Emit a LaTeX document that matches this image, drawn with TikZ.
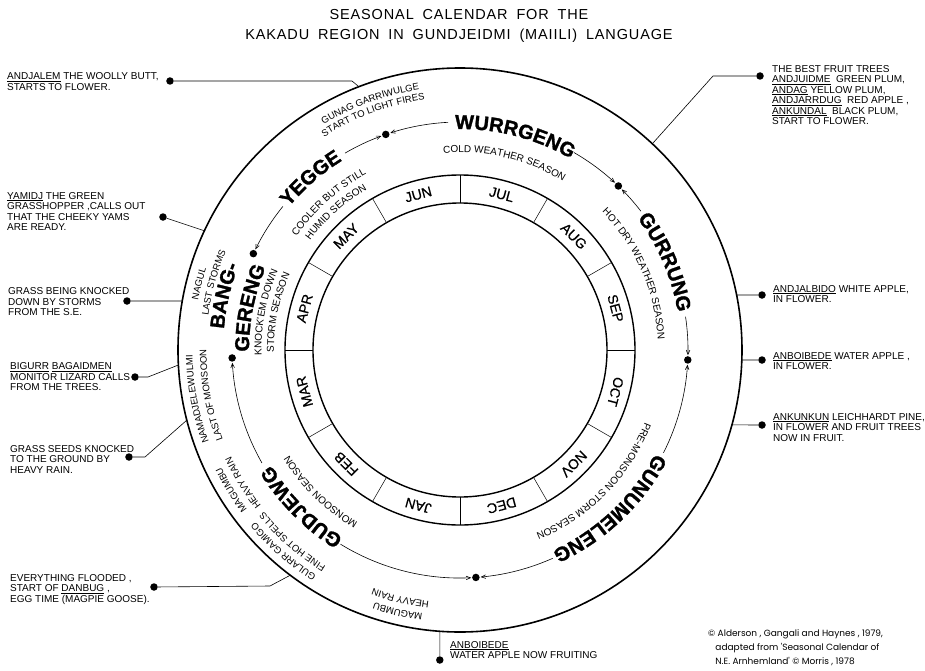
\documentclass[tikz,border=0pt]{standalone}
\usepackage{fontspec}
\setmainfont{Liberation Sans}
\newfontfamily\titlefont[LetterSpace=6,WordSpace=1.8]{Liberation Sans}
\newfontfamily\heavyfont[FakeBold=1.4]{Liberation Sans Bold}
\newfontfamily\monthfont[FakeBold=0.6]{Liberation Sans}
\newfontfamily\creditfont{Poppins}
\usepackage{tikz}
\usetikzlibrary{arrows,%
                decorations.text}

\newcommand{\namefont}{\heavyfont\fontsize{20}{20}\selectfont}
\newcommand{\subfont}{\fontsize{10}{10}\selectfont}
\newcommand{\notefont}{\fontsize{9.5}{9.5}\selectfont}
% text set along a circle round the centre: font, radius, angle, text
\newcommand{\ringlabel}[4]{%
  \path[decorate, decoration={text along path, text align=center, text={|#1|#4}}]
    ({#3+60}:#2) arc[start angle={#3+60}, end angle={#3-60}, radius=#2];}

\tikzset{
  dot/.style={circle, fill=black, inner sep=0pt, minimum size=7.5pt},
  note/.style={anchor=north west, inner sep=0pt, align=left, font=\fontsize{10}{10.5}\selectfont},
  month/.style={inner sep=0pt, font=\monthfont\fontsize{14}{14}\selectfont},
  lead/.style={line width=0.6pt},
  seasonarc/.style={line width=0.6pt, -angle 45},
}

\begin{document}
\begin{tikzpicture}[x=1pt, y=1pt]
\useasboundingbox (-460,-320) rectangle (465,350);
\coordinate (O) at (0,0);
\node[anchor=north, inner sep=0pt, align=center, font=\titlefont\fontsize{14.5}{20}\selectfont] (title) at (-1,340.5)
  {SEASONAL CALENDAR FOR THE\\KAKADU REGION IN GUNDJEIDMI (MAIILI) LANGUAGE};
% rings
\draw[line width=1.6pt] (O) circle[radius=282];
\draw[line width=1.4pt] (O) circle[radius=175];
\draw[line width=1.4pt] (O) circle[radius=147];
\foreach \a in {0,30,...,330}
  \draw[line width=0.5pt] (\a:147) -- (\a:175);
\foreach \m/\a in {JUL/75, AUG/45, SEP/15, OCT/-15, NOV/-45, DEC/-75,
                   JAN/-105, FEB/-135, MAR/-165, APR/165, MAY/135, JUN/105}
  \node[month, rotate=\a-90] (m\m) at (\a:161) {\m};
% season arc, broken where the names stand
\foreach \s/\e in {120.3/110.2, 93/107.8, 60/47.2, 37.5/44.8, 8.4/-1.3,
                   -26.8/-3.7, -66/-84.8, 238.4/272.8, 209.7/183.2, 141/153.8}
  \draw[seasonarc] (\s:228) arc[start angle=\s, end angle=\e, radius=228];
\foreach \a [count=\i] in {109,46,-2.5,-86,182,155}
  \node[dot] (s\i) at (\a:228) {};
% seasons
\ringlabel{\namefont}{221}{75.6}{WURRGENG}
\ringlabel{\namefont}{221}{23.2}{GURRUNG}
\ringlabel{\namefont}{221}{-46.6}{GUNUMELENG}
\ringlabel{\namefont}{221}{224.7}{GUDJEWG}
\ringlabel{\namefont}{223}{131}{YEGGE}
\ringlabel{\namefont}{237}{167}{BANG-}
\ringlabel{\namefont}{211}{168.7}{GERENG}
\ringlabel{\subfont}{197.5}{76.7}{COLD WEATHER SEASON}
\ringlabel{\subfont}{198}{23.6}{HOT DRY WEATHER SEASON}
\ringlabel{\subfont}{198.5}{-44.4}{PRE-MONSOON STORM SEASON}
\ringlabel{\subfont}{200.5}{225.5}{MONSOON SEASON}
\ringlabel{\subfont}{198.5}{169}{KNOCK'EM DOWN}
\ringlabel{\subfont}{186}{168.4}{STORM SEASON}
\ringlabel{\subfont}{199}{131.6}{COOLER BUT STILL}
\ringlabel{\subfont}{185.5}{132}{HUMID SEASON}
\ringlabel{\notefont}{263.5}{110}{GUNAG GARRIWULGE}
\ringlabel{\notefont}{252.5}{110.3}{START TO LIGHT FIRES}
\ringlabel{\notefont}{266.5}{165.7}{NAGUL}
\ringlabel{\notefont}{254}{164.7}{LAST STORMS}
\ringlabel{\notefont}{267.5}{190.6}{NAMADJELEWULMI}
\ringlabel{\notefont}{253.5}{190.3}{LAST OF MONSOON}
\ringlabel{\notefont}{266}{211.5}{MAGUMBU}
\ringlabel{\notefont}{252.5}{211.5}{HEAVY RAIN}
\ringlabel{\notefont}{267.5}{228.8}{GULARR GAMIGO}
\ringlabel{\notefont}{254.5}{228.9}{FINE HOT SPELLS}
\ringlabel{\notefont}{266.5}{256.6}{MAGUMBU}
\ringlabel{\notefont}{253.5}{256.5}{HEAVY RAIN}
% left notes
\node[note] (andjalem) at (-453,277.3) {\underline{ANDJALEM} THE WOOLLY BUTT,\\STARTS TO FLOWER.};
\node[dot] (p1) at (-290,269) {};
\coordinate (k1) at (-108,269);
\coordinate (c1) at (111:282);
\draw[lead] (p1) -- (k1) -- (c1);
\node[note] (yamidj) at (-453,158) {\underline{YAMIDJ} THE GREEN\\GRASSHOPPER ,CALLS OUT\\THAT THE CHEEKY YAMS\\ARE READY.};
\node[dot] (p2) at (-297,133) {};
\coordinate (c2) at (155:282);
\draw[lead] (p2) -- (c2);
\node[note] (grass) at (-452,62.3) {GRASS BEING KNOCKED\\DOWN BY STORMS\\FROM THE S.E.};
\node[dot] (p3) at (-333,49) {};
\coordinate (c3) at (170:282);
\draw[lead] (p3) -- (c3);
\node[note] (bigurr) at (-450,-12.7) {\underline{BIGURR} \underline{BAGAIDMEN}\\MONITOR LIZARD CALLS\\FROM THE TREES.};
\node[dot] (p4) at (-325,-27) {};
\coordinate (k4) at (-312,-27);
\coordinate (c4) at (183.05:282);
\draw[lead] (p4) -- (k4) -- (c4);
\node[note] (seeds) at (-450,-95) {GRASS SEEDS KNOCKED\\TO THE GROUND BY\\HEAVY RAIN.};
\node[dot] (p5) at (-331,-107) {};
\coordinate (k5) at (-315,-107);
\coordinate (c5) at (194.4:282);
\draw[lead] (p5) -- (k5) -- (c5);
\node[note] (flood) at (-450,-224) {EVERYTHING FLOODED ,\\START OF \underline{DANBUG} ,\\EGG TIME (MAGPIE GOOSE).};
\node[dot] (p6) at (-306,-237) {};
\coordinate (k6) at (-190,-236);
\coordinate (c6) at (233:282);
\draw[lead] (p6) -- (k6) -- (c6);
\node[note] (fruiting) at (-10,-291) {\underline{ANBOIBEDE}\\WATER APPLE NOW FRUITING};
\node[dot] (p7) at (-20.2,-310) {};
\coordinate (c7) at (265.9:282);
\draw[lead] (p7) -- (c7);
% right notes
\node[note] (best) at (312,285) {THE BEST FRUIT TREES\\\underline{ANDJUIDME}\ \ GREEN PLUM,\\\underline{ANDAG} YELLOW PLUM,\\\underline{ANDJARRDUG}\ \ RED APPLE ,\\\underline{ANKUNDAL}\ \ BLACK PLUM,\\START TO FLOWER.};
\node[dot] (p8) at (300,274) {};
\coordinate (k8) at (253,274);
\coordinate (c8) at (47:282);
\draw[lead] (p8) -- (k8) -- (c8);
\node[note] (white) at (313,65) {\underline{ANDJALBIDO} WHITE APPLE,\\IN FLOWER.};
\node[dot] (p9) at (302,55) {};
\coordinate (c9) at (11.25:282);
\draw[lead] (p9) -- (c9);
\node[note] (water) at (313,-2) {\underline{ANBOIBEDE} WATER APPLE ,\\IN FLOWER.};
\node[dot] (p10) at (302,-10) {};
\coordinate (c10) at (-2.03:282);
\draw[lead] (p10) -- (c10);
\node[note] (pine) at (313,-63) {\underline{ANKUNKUN} LEICHHARDT PINE,\\IN FLOWER AND FRUIT TREES\\NOW IN FRUIT.};
\node[dot] (p11) at (302,-75) {};
\coordinate (c11) at (-15.4:282);
\draw[lead] (p11) -- (c11);
\node[note, font=\creditfont\fontsize{9}{14}\selectfont] (credit) at (248,-279)
  {\textcopyright\ Alderson , Gangali and Haynes , 1979,\\
   \ \ \ adapted from 'Seasonal Calendar of\\
   \ \ \ N.E. Arnhemland' \textcopyright\ Morris , 1978};
\end{tikzpicture}
\end{document}
